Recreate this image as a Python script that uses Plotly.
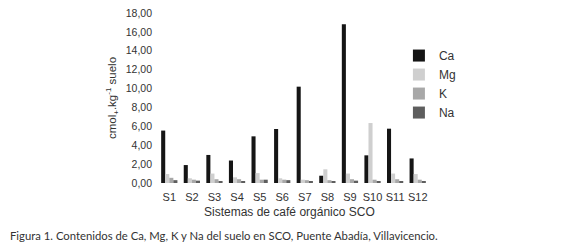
import plotly.graph_objects as go

categories = ["S1", "S2", "S3", "S4", "S5", "S6", "S7", "S8", "S9", "S10", "S11", "S12"]
ca = [5.55, 1.90, 2.97, 2.38, 4.94, 5.72, 10.20, 0.77, 16.80, 2.93, 5.75, 2.60]
mg = [0.95, 0.50, 1.00, 0.60, 1.05, 0.50, 0.35, 1.45, 1.00, 6.35, 1.00, 0.95]
k = [0.55, 0.35, 0.40, 0.40, 0.35, 0.35, 0.30, 0.30, 0.40, 0.35, 0.40, 0.35]
na = [0.30, 0.25, 0.20, 0.20, 0.35, 0.30, 0.20, 0.20, 0.25, 0.20, 0.20, 0.15]
series = [("Ca", ca, "#151515"), ("Mg", mg, "#cfcfcf"), ("K", k, "#a8a8a8"), ("Na", na, "#5e5e5e")]
y_ticks = [0, 2, 4, 6, 8, 10, 12, 14, 16, 18]

fig = go.Figure()
for name, vals, col in series:
    fig.add_trace(go.Bar(x=categories, y=vals, name=name, marker=dict(color=col, line=dict(width=0))))

font = "Liberation Sans, Arial, sans-serif"
# the page body adds an 8px offset, so the figure is drawn 8px smaller
fig.update_layout(
    width=572, height=239,
    margin=dict(l=150, r=151, t=5, b=64, autoexpand=False),
    paper_bgcolor="white", plot_bgcolor="white",
    separators=",.",
    barmode="group", bargap=0.28, bargroupgap=0,
    font=dict(family=font, size=11, color="#333333"),
    showlegend=True,
    legend=dict(x=0.889, xanchor="left", y=0.835, yanchor="top",
                font=dict(size=12, color="#333333"), tracegroupgap=2,
                itemwidth=30, bgcolor="rgba(0,0,0,0)"),
    xaxis=dict(showline=False, ticks="", ticklabelstandoff=6,
               tickfont=dict(size=11, color="#333333")),
    yaxis=dict(range=[0, 18], tickvals=y_ticks, tickformat=".2f", showgrid=False,
               showline=False, zeroline=False, ticks="", ticklabelstandoff=5,
               ticklabeloverflow="allow",
               tickfont=dict(size=10.5, color="#333333"),
               title=dict(text="cmol<sub>+</sub>.kg<sup>-1</sup> suelo",
                          font=dict(size=11.5, color="#333333"), standoff=6)),
    annotations=[
        dict(text="Sistemas de café orgánico SCO", xref="paper", yref="paper",
             x=0.487, y=-0.17, xanchor="center", yanchor="middle", showarrow=False,
             font=dict(size=12, color="#333333")),
        dict(text="Figura 1. Contenidos de Ca, Mg, K y Na del suelo en SCO, Puente Abadía, Villavicencio.",
             xref="paper", yref="paper", x=-0.552, y=-0.306, xanchor="left", yanchor="middle",
             showarrow=False, font=dict(family="Lato, Noto Sans, sans-serif", size=11.3, color="#333333")),
    ],
)
fig.write_html("out.html")
